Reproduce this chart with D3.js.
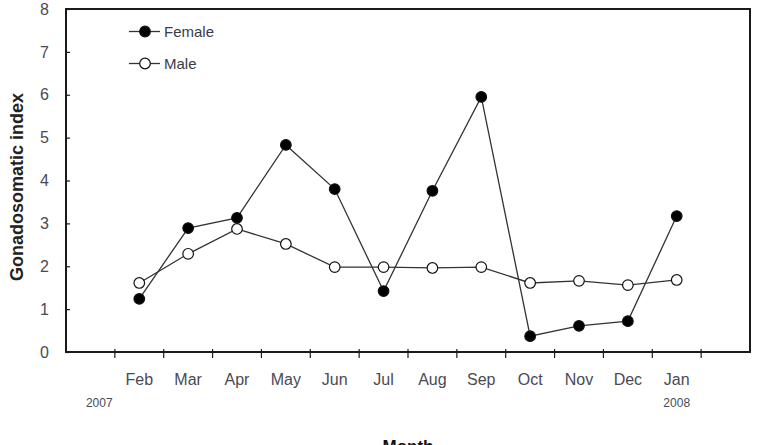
<!DOCTYPE html>
<html>
<head>
<meta charset="utf-8">
<script src="https://cdn.jsdelivr.net/npm/d3@7"></script>
<style>
  body { margin: 0; background: #fff; }
  svg text { font-family: Arial, "Liberation Sans", sans-serif; }
</style>
</head>
<body>
<script>
// data
var months = ["Feb", "Mar", "Apr", "May", "Jun", "Jul", "Aug", "Sep", "Oct", "Nov", "Dec", "Jan"];
var female = [1.24, 2.89, 3.13, 4.83, 3.8, 1.42, 3.76, 5.95, 0.37, 0.61, 0.72, 3.17];
var male = [1.61, 2.29, 2.87, 2.52, 1.98, 1.98, 1.96, 1.98, 1.61, 1.66, 1.56, 1.68];
var yTicks = [0, 1, 2, 3, 4, 5, 6, 7, 8];
var years = [{month: "Feb", label: "2007", shift: -40}, {month: "Jan", label: "2008", shift: 0}];

var W = 761, H = 445;
// "top" is taken by window.top, so the margins get their own names
var plotLeft = 66, plotRight = 750, plotTop = 9, plotBottom = 352;

var svg = d3.select("body").append("svg").attr("width", W).attr("height", H);

var x = d3.scaleBand().domain(months).range([plotLeft, plotRight]).paddingOuter(1).paddingInner(0);
var y = d3.scaleLinear().domain([0, 8]).range([plotBottom, plotTop]);
var cx = function(d) { return x(d) + x.bandwidth() / 2; };

// frame
svg.append("rect").attr("x", plotLeft).attr("y", plotTop)
    .attr("width", plotRight - plotLeft).attr("height", plotBottom - plotTop)
    .attr("fill", "none").attr("stroke", "#1a1a1a").attr("stroke-width", 2);

// y axis, ticks inward
var yAxis = svg.append("g").attr("transform", "translate(" + plotLeft + ",0)")
    .call(d3.axisLeft(y).tickValues(yTicks).tickFormat(d3.format("d")).tickSize(-4).tickPadding(17));
yAxis.select(".domain").remove();
yAxis.selectAll(".tick line").attr("stroke", "#1a1a1a").attr("stroke-width", 1.2);
yAxis.selectAll("text").attr("font-size", 16).attr("fill", "#4a4a55");

// x ticks on band edges
var edges = months.map(function(d) { return x(d); }).concat([x(months[months.length - 1]) + x.bandwidth()]);
svg.append("g").selectAll("line").data(edges).join("line")
    .attr("x1", function(d) { return d; }).attr("x2", function(d) { return d; })
    .attr("y1", plotBottom - 3).attr("y2", plotBottom + 6)
    .attr("stroke", "#1a1a1a").attr("stroke-width", 1.2);

var xAxis = svg.append("g").attr("transform", "translate(0," + plotBottom + ")")
    .call(d3.axisBottom(x).tickSize(0).tickPadding(22));
xAxis.select(".domain").remove();
xAxis.selectAll("text").attr("font-size", 16).attr("fill", "#4a4a55");

svg.append("g").selectAll("text").data(years).join("text")
    .attr("x", function(d) { return cx(d.month) + d.shift; })
    .attr("y", 407)
    .attr("text-anchor", "middle").attr("font-size", 12).attr("fill", "#4a4a55")
    .text(function(d) { return d.label; });

// titles
svg.append("text").attr("transform", "translate(23,187) rotate(-90)")
    .attr("text-anchor", "middle").attr("font-size", 18).attr("font-weight", "bold").attr("fill", "#222")
    .text("Gonadosomatic index");
svg.append("text").attr("x", (plotLeft + plotRight) / 2).attr("y", 452)
    .attr("text-anchor", "middle").attr("font-size", 17).attr("font-weight", "bold").attr("fill", "#111")
    .text("Month");

// series
var line = d3.line().x(function(d, i) { return cx(months[i]); }).y(function(d) { return y(d); });

var series = [
    {name: "Female", values: female, fill: "#000"},
    {name: "Male", values: male, fill: "#fff"}
];

series.forEach(function(s) {
    svg.append("path").datum(s.values).attr("d", line)
        .attr("fill", "none").attr("stroke", "#333").attr("stroke-width", 1.3);
});
series.forEach(function(s) {
    svg.append("g").selectAll("circle").data(s.values).join("circle")
        .attr("cx", function(d, i) { return cx(months[i]); })
        .attr("cy", function(d) { return y(d); })
        .attr("r", 5.3)
        .attr("fill", s.fill).attr("stroke", "#111").attr("stroke-width", 1.2);
});

// legend
var legend = svg.append("g").selectAll("g").data(series).join("g")
    .attr("transform", function(d, i) { return "translate(129," + (31.5 + i * 32) + ")"; });
legend.append("line").attr("x1", 0).attr("x2", 31).attr("stroke", "#333").attr("stroke-width", 1.3);
legend.append("circle").attr("cx", 16).attr("r", 5.3)
    .attr("fill", function(d) { return d.fill; }).attr("stroke", "#111").attr("stroke-width", 1.2);
legend.append("text").attr("x", 35).attr("dy", "0.35em").attr("font-size", 15).attr("fill", "#3a3a48")
    .text(function(d) { return d.name; });
</script>
</body>
</html>
